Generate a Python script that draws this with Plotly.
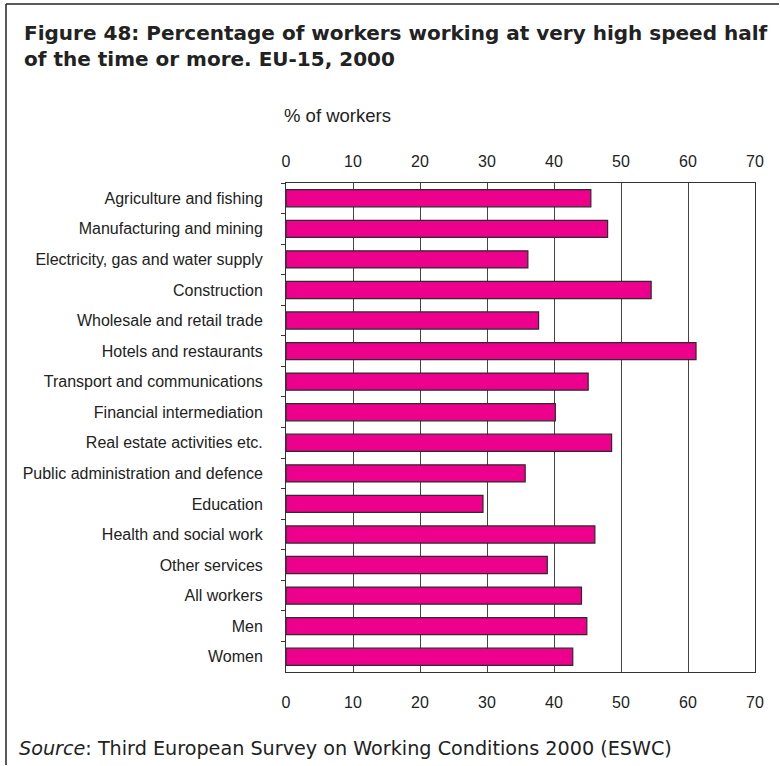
import plotly.graph_objects as go

categories = [
    "Agriculture and fishing",
    "Manufacturing and mining",
    "Electricity, gas and water supply",
    "Construction",
    "Wholesale and retail trade",
    "Hotels and restaurants",
    "Transport and communications",
    "Financial intermediation",
    "Real estate activities etc.",
    "Public administration and defence",
    "Education",
    "Health and social work",
    "Other services",
    "All workers",
    "Men",
    "Women",
]
values = [45.5, 48.0, 36.1, 54.5, 37.7, 61.2, 45.1, 40.2, 48.6, 35.7,
          29.4, 46.1, 39.0, 44.1, 44.9, 42.8]
tick_values = [0, 10, 20, 30, 40, 50, 60, 70]
tick_labels = ["0", "10", "20", "30", "40", "50", "60", "70"]

title_line1 = "Figure 48: Percentage of workers working at very high speed half"
title_line2 = "of the time or more. EU-15, 2000"
axis_label = "% of workers"
source_text = "<i>Source</i>: Third European Survey on Working Conditions 2000 (ESWC)"

W, H = 780, 766
ML, MR, MT, MB = 286, 25, 183, 94
PW = W - ML - MR
PH = H - MT - MB


def px(x):
    return (x - ML) / PW


def py(y):
    return 1 - (y - MT) / PH


fig = go.Figure()
fig.add_trace(go.Bar(
    x=values, y=categories, orientation="h",
    marker=dict(color="#EC008C", line=dict(color="#2b2b2b", width=1.2)),
    hoverinfo="x+y", showlegend=False,
))

axis_font = dict(family="Liberation Sans, Arial, sans-serif", size=16, color="#222")

fig.update_layout(
    width=W, height=H,
    margin=dict(l=ML, r=MR, t=MT, b=MB),
    paper_bgcolor="white", plot_bgcolor="white",
    bargap=0.44,
    xaxis=dict(
        range=[0, 70], tickvals=tick_values, ticktext=tick_labels,
        showgrid=True, gridcolor="#444", gridwidth=1,
        showline=True, linecolor="#333", linewidth=1, mirror=True,
        ticks="", zeroline=False, tickfont=axis_font,
        ticklabelstandoff=16,
    ),
    xaxis2=dict(
        range=[0, 70], tickvals=tick_values, ticktext=tick_labels,
        overlaying="x", side="top", showgrid=False, ticks="",
        zeroline=False, showline=False, tickfont=axis_font,
        ticklabelstandoff=12,
    ),
    yaxis=dict(
        range=[15.5, -0.5], type="category",
        showgrid=False, showline=True, linecolor="#333", linewidth=1,
        mirror=True, ticks="outside", tickson="boundaries", ticklen=4,
        tickcolor="#333", tickfont=axis_font, ticklabelstandoff=19,
    ),
    font=dict(family="Liberation Sans, Arial, sans-serif", color="#222"),
)

# invisible trace to activate the top axis
fig.add_trace(go.Scatter(x=[0, 70], y=[categories[0], categories[0]], xaxis="x2",
                         mode="markers", marker=dict(opacity=0), showlegend=False,
                         hoverinfo="skip"))

title_font = dict(family="DejaVu Sans, sans-serif", size=20, color="#222")
fig.add_annotation(text="<b>" + title_line1 + "</b><br><b>" + title_line2 + "</b>",
                   xref="paper", yref="paper", align="left",
                   x=px(22), y=py(46), xanchor="left", yanchor="middle",
                   showarrow=False, font=title_font)
fig.add_annotation(text=axis_label, xref="paper", yref="paper",
                   x=px(282), y=py(115), xanchor="left", yanchor="middle",
                   showarrow=False,
                   font=dict(family="Liberation Sans, Arial, sans-serif", size=18.5, color="#222"))
fig.add_annotation(text=source_text, xref="paper", yref="paper",
                   x=px(17), y=py(748), xanchor="left", yanchor="middle",
                   showarrow=False,
                   font=dict(family="DejaVu Sans, sans-serif", size=19.2, color="#222"))

# outer frame of the figure box (top and left edges are visible)
frame = dict(color="#222", width=1.5)
fig.add_shape(type="line", xref="paper", yref="paper", layer="above",
              x0=px(6), x1=px(779), y0=py(4), y1=py(4), line=frame)
fig.add_shape(type="line", xref="paper", yref="paper", layer="above",
              x0=px(6), x1=px(6), y0=py(4), y1=py(765), line=frame)

fig.write_html("out.html", config={"displayModeBar": False},
               post_script="document.body.style.margin='0';")
